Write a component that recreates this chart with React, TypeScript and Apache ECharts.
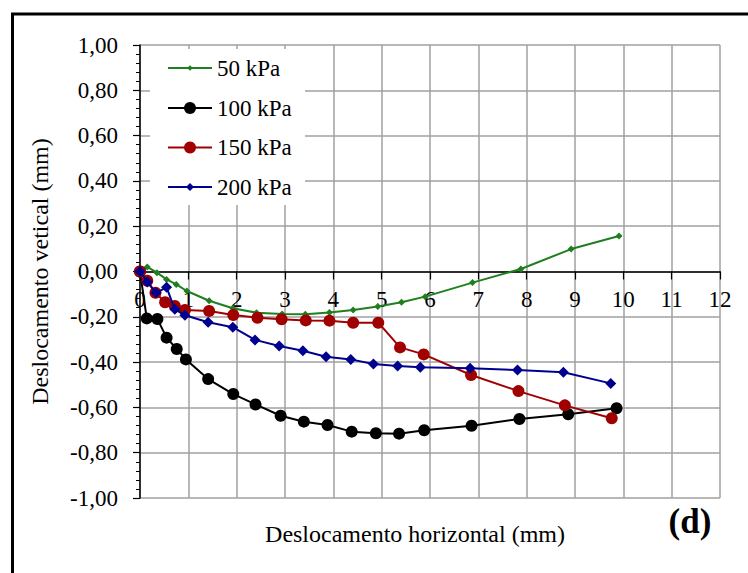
import React, { useEffect, useRef } from "react";
import * as echarts from "echarts";

const FONT = "Liberation Serif, Times New Roman, serif";

const seriesNames = ["50 kPa", "100 kPa", "150 kPa", "200 kPa"];

const data50: [number, number][] = [
  [0, 0], [0.15, 0.02], [0.35, -0.005], [0.55, -0.035], [0.75, -0.057], [0.97, -0.086],
  [1.43, -0.129], [1.92, -0.162], [2.41, -0.182], [2.94, -0.188], [3.42, -0.189],
  [3.92, -0.181], [4.41, -0.17], [4.92, -0.155], [5.41, -0.136], [5.9, -0.111],
  [6.88, -0.049], [7.88, 0.011], [8.92, 0.099], [9.91, 0.157],
];

const data100: [number, number][] = [
  [0, 0], [0.14, -0.207], [0.36, -0.21], [0.55, -0.292], [0.76, -0.342], [0.95, -0.388],
  [1.41, -0.475], [1.93, -0.541], [2.39, -0.587], [2.91, -0.637], [3.39, -0.663],
  [3.88, -0.678], [4.38, -0.707], [4.88, -0.714], [5.36, -0.716], [5.88, -0.701],
  [6.86, -0.681], [7.85, -0.651], [8.86, -0.63], [9.86, -0.604],
];

const data150: [number, number][] = [
  [0, 0], [0.15, -0.041], [0.32, -0.094], [0.52, -0.136], [0.72, -0.152], [0.93, -0.17],
  [1.43, -0.174], [1.93, -0.192], [2.43, -0.204], [2.93, -0.211], [3.43, -0.216],
  [3.92, -0.217], [4.41, -0.226], [4.93, -0.226], [5.38, -0.335], [5.87, -0.366],
  [6.85, -0.457], [7.83, -0.528], [8.79, -0.591], [9.76, -0.648],
];

const data200: [number, number][] = [
  [0, 0], [0.15, -0.046], [0.33, -0.094], [0.55, -0.07], [0.72, -0.167], [0.93, -0.193],
  [1.41, -0.224], [1.92, -0.246], [2.38, -0.302], [2.88, -0.329], [3.37, -0.35],
  [3.85, -0.376], [4.36, -0.388], [4.83, -0.408], [5.33, -0.417], [5.8, -0.423],
  [6.83, -0.427], [7.81, -0.435], [8.76, -0.445], [9.74, -0.494],
];

const colors = ["#1f7f1f", "#000000", "#a00000", "#00008f"];
const symbols = ["diamond", "circle", "circle", "diamond"];
const symbolSizes = [7, 12, 12, 11];
const legendIconHeights = [7, 15, 15, 10];
const legendRowCenters = [68, 108, 147.5, 187];

export default function App() {
  const ref = useRef<HTMLDivElement>(null);

  useEffect(() => {
    document.body.style.margin = "0";
    if (!ref.current) return;
    const chart = echarts.init(ref.current, null, { renderer: "svg" });
    const allData = [data50, data100, data150, data200];

    chart.setOption({
      animation: false,
      backgroundColor: "#ffffff",
      textStyle: { fontFamily: FONT },
      grid: { left: 140, right: 28, top: 45, bottom: 75, containLabel: false },
      xAxis: {
        type: "value",
        min: 0,
        max: 12,
        interval: 1,
        position: "bottom",
        offset: -226.5,
        axisLine: { show: true, onZero: false, lineStyle: { color: "#000", width: 1.5 } },
        axisTick: { show: true, length: 8, lineStyle: { color: "#000", width: 1.2 } },
        splitLine: { show: true, lineStyle: { color: "#a0a0a0", width: 1.5 } },
        axisLabel: {
          fontFamily: FONT,
          fontSize: 23,
          color: "#000",
          margin: 16,
          formatter: (v: number) => String(v),
        },
      },
      yAxis: {
        type: "value",
        min: -1,
        max: 1,
        interval: 0.2,
        axisLine: { show: true, onZero: false, lineStyle: { color: "#000", width: 1.5 } },
        axisTick: { show: true, length: 7, lineStyle: { color: "#000", width: 1.2 } },
        minorTick: { show: true, splitNumber: 5, length: 4, lineStyle: { color: "#000", width: 1 } },
        splitLine: { show: true, lineStyle: { color: "#a0a0a0", width: 1.5 } },
        axisLabel: {
          fontFamily: FONT,
          fontSize: 23,
          color: "#000",
          margin: 22,
          formatter: (v: number) => v.toFixed(2).replace(".", ","),
        },
        name: "Deslocamento vetical (mm)",
        nameLocation: "middle",
        nameRotate: 90,
        nameGap: 88,
        nameTextStyle: { fontFamily: FONT, fontSize: 24, color: "#000" },
      },
      legend: seriesNames.map((n, i) => ({
        data: [n],
        orient: "vertical",
        left: 167,
        top: legendRowCenters[i] - 11.5,
        padding: 0,
        itemGap: 0,
        itemWidth: 44,
        itemHeight: legendIconHeights[i],
        selectedMode: false,
        z: 5,
        textStyle: { fontFamily: FONT, fontSize: 23, color: "#000", lineHeight: 23 },
      })),
      graphic: [
        {
          type: "rect",
          z: 1,
          shape: { x: 150, y: 49, width: 155, height: 156 },
          style: { fill: "#ffffff", stroke: "none" },
        },
        {
          type: "rect",
          z: 10,
          shape: { x: 12.5, y: 14, width: 900, height: 700 },
          style: { fill: "none", stroke: "#000", lineWidth: 3 },
        },
        {
          type: "text",
          z: 10,
          x: 415,
          y: 534,
          style: {
            text: "Deslocamento horizontal (mm)",
            font: `24px ${FONT}`,
            fill: "#000",
            align: "center",
            verticalAlign: "middle",
          },
        },
        {
          type: "text",
          z: 10,
          x: 690,
          y: 521,
          style: {
            text: "(d)",
            font: `bold 35px ${FONT}`,
            fill: "#000",
            align: "center",
            verticalAlign: "middle",
          },
        },
      ],
      series: seriesNames.map((n, i) => ({
        name: n,
        type: "line",
        data: allData[i],
        symbol: symbols[i],
        symbolSize: symbolSizes[i],
        showAllSymbol: true,
        lineStyle: { color: colors[i], width: 2 },
        itemStyle: { color: colors[i] },
        z: 2 + i * 0.1,
      })),
    });

    return () => chart.dispose();
  }, []);

  return <div ref={ref} style={{ width: 748, height: 573 }} />;
}
